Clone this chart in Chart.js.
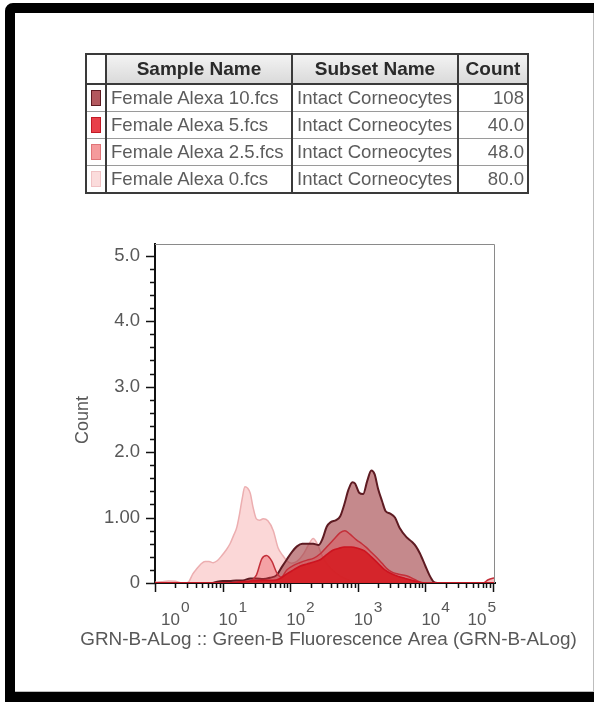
<!DOCTYPE html>
<html>
<head>
<meta charset="utf-8">
<script src="https://cdn.jsdelivr.net/npm/chart.js@4.4.1/dist/chart.umd.min.js"></script>
<style>
  html, body { margin: 0; padding: 0; width: 594px; height: 702px; overflow: hidden; background: #fff; }
  #frame {
    position: absolute; left: 5px; top: 3px; width: 640px; height: 699px;
    box-sizing: border-box; border: 10px solid #000; border-top-left-radius: 8px; background: #fff;
  }
  #inner {
    position: absolute; left: 0; top: 0; width: 579px; height: 679px; box-sizing: border-box;
    border-right: 1px solid #bdbdbd; border-bottom: 1px solid #bdbdbd;
  }
  #plot { position: absolute; left: 0; top: 0; z-index: 1; }
  #legend {
    position: absolute; left: 85px; top: 53px; z-index: 2;
    border-collapse: collapse; table-layout: fixed; width: 442px;
    font-family: "Liberation Sans", Arial, sans-serif; border: 2px solid #3a3a3a;
  }
  #legend th {
    height: 28px; padding: 0; font-size: 19px; font-weight: bold; color: #2a2a2a; text-align: center;
    background: linear-gradient(#f3f3f3, #dadada); border: 2px solid #3a3a3a; white-space: nowrap; overflow: hidden;
  }
  #legend th.sw { background: #fff; }
  #legend td {
    height: 26px; padding: 0 2px 0 4px; font-size: 18.6px; color: #5c5c5c; white-space: nowrap; overflow: hidden;
    border-top: 1px solid #9a9a9a; border-bottom: 1px solid #9a9a9a;
    border-left: 2px solid #3a3a3a; border-right: 2px solid #3a3a3a;
  }
  #legend td.sw { padding: 0; }
  #legend td.num { text-align: right; padding-right: 3px; }
  .swatch { width: 10px; height: 16px; margin: 0 auto; box-sizing: border-box; border: 1.5px solid; }
</style>
</head>
<body>
<div id="frame"><div id="inner"></div></div>
<canvas id="plot" width="594" height="702"></canvas>
<table id="legend">
  <colgroup><col style="width:20px"><col style="width:186px"><col style="width:166px"><col style="width:70px"></colgroup>
  <thead><tr><th class="sw"></th><th>Sample Name</th><th>Subset Name</th><th>Count</th></tr></thead>
  <tbody id="legendBody"></tbody>
</table>
<script>
// Samples listed in the legend table
const sampleNames = ['Female Alexa 10.fcs', 'Female Alexa 5.fcs', 'Female Alexa 2.5.fcs', 'Female Alexa 0.fcs'];
const subsetNames = ['Intact Corneocytes', 'Intact Corneocytes', 'Intact Corneocytes', 'Intact Corneocytes'];
const sampleCounts = [108, 40, 48, 80];

// Histogram outlines: channel position in decades (10^d) and count per sample
const alexa10Log   = [0, 0.85, 0.92, 1.0, 1.1, 1.2, 1.3, 1.41, 1.5, 1.6, 1.7, 1.8, 1.88, 1.95, 2.03, 2.1, 2.18, 2.26, 2.34, 2.42, 2.48, 2.54, 2.6, 2.68, 2.74, 2.8, 2.86, 2.92, 2.96, 3.02, 3.08, 3.14, 3.2, 3.25, 3.3, 3.36, 3.41, 3.48, 3.55, 3.62, 3.72, 3.8, 3.86, 3.92, 4.0, 4.06, 4.12, 4.18, 5.03];
const alexa10Count = [0, 0, 0.02, 0.03, 0.03, 0.04, 0.04, 0.07, 0.07, 0.06, 0.08, 0.12, 0.25, 0.36, 0.48, 0.56, 0.6, 0.6, 0.6, 0.58, 0.68, 0.86, 0.93, 0.96, 1.02, 1.2, 1.42, 1.54, 1.52, 1.38, 1.36, 1.56, 1.72, 1.66, 1.44, 1.25, 1.1, 1.06, 1.0, 0.84, 0.7, 0.63, 0.56, 0.45, 0.26, 0.12, 0.02, 0, 0];

const alexa5Log   = [0, 1.1, 1.2, 1.4, 1.6, 1.75, 1.85, 1.95, 2.05, 2.15, 2.25, 2.35, 2.45, 2.55, 2.63, 2.72, 2.8, 2.9, 3.0, 3.1, 3.2, 3.3, 3.4, 3.5, 3.6, 3.7, 3.8, 3.9, 4.0, 5.03];
const alexa5Count = [0, 0, 0.01, 0.03, 0.04, 0.04, 0.07, 0.14, 0.2, 0.26, 0.29, 0.32, 0.36, 0.44, 0.5, 0.53, 0.55, 0.55, 0.53, 0.49, 0.4, 0.3, 0.2, 0.14, 0.1, 0.07, 0.04, 0.015, 0, 0];

const alexa25Log   = [0, 1.3, 1.4, 1.5, 1.58, 1.65, 1.73, 1.8, 1.87, 1.95, 2.05, 2.14, 2.25, 2.35, 2.45, 2.54, 2.64, 2.74, 2.81, 2.88, 2.98, 3.06, 3.13, 3.2, 3.28, 3.36, 3.43, 3.5, 3.58, 3.72, 3.87, 3.96, 4.85, 4.93, 5.03];
const alexa25Count = [0, 0, 0.02, 0.12, 0.37, 0.42, 0.33, 0.16, 0.09, 0.2, 0.27, 0.31, 0.35, 0.38, 0.45, 0.55, 0.66, 0.77, 0.8, 0.75, 0.66, 0.6, 0.54, 0.47, 0.39, 0.3, 0.22, 0.17, 0.14, 0.11, 0.04, 0, 0, 0.05, 0.08];

const alexa0Log   = [0, 0.1, 0.2, 0.3, 0.38, 0.45, 0.5, 0.56, 0.62, 0.68, 0.74, 0.8, 0.86, 0.92, 0.99, 1.05, 1.11, 1.16, 1.21, 1.25, 1.29, 1.33, 1.37, 1.41, 1.45, 1.5, 1.55, 1.6, 1.67, 1.75, 1.82, 1.89, 1.95, 2.02, 2.1, 2.2, 2.28, 2.34, 2.4, 2.48, 2.6, 2.75, 2.9, 3.05, 5.03];
const alexa0Count = [0.01, 0.02, 0.03, 0.025, 0.005, 0, 0.02, 0.14, 0.22, 0.29, 0.33, 0.33, 0.31, 0.34, 0.42, 0.5, 0.6, 0.72, 0.85, 1.05, 1.29, 1.47, 1.45, 1.37, 1.16, 0.98, 0.96, 0.98, 0.95, 0.8, 0.54, 0.42, 0.34, 0.3, 0.33, 0.45, 0.6, 0.68, 0.6, 0.4, 0.22, 0.1, 0.03, 0, 0];

// Axis ticks
const yTickValues = [0, 1, 2, 3, 4, 5];
const yTickLabels = ['0', '1.00', '2.0', '3.0', '4.0', '5.0'];
const xDecades = [0, 1, 2, 3, 4, 5];
const xTitle = 'GRN-B-ALog :: Green-B Fluorescence Area (GRN-B-ALog)';
const yTitle = 'Count';

// Swatch colours shown in the legend table, and the matching plot styles
const swatchFill   = ['#b3585e', '#e8404a', '#f59a9c', '#fbdcdc'];
const swatchBorder = ['#5e1b22', '#c21a26', '#e07478', '#f0c2c4'];
const lineColor = ['#5e1b22', '#cc1420', '#c4303a', '#ecaeb0'];
const fillColor = ['rgba(162,64,70,0.62)', 'rgba(214,26,32,0.86)', 'rgba(232,62,70,0.34)', 'rgb(251,215,215)'];
const lineWidth = [2, 1.6, 1.5, 1.5];
const drawOrder = [2, 0, 1, 3];

// Legend table rows
const body = document.getElementById('legendBody');
sampleNames.forEach((name, i) => {
  const tr = document.createElement('tr');
  const n = sampleCounts[i];
  const countText = n >= 100 ? String(n) : n.toFixed(1);
  tr.innerHTML = '<td class="sw"><div class="swatch" style="background:' + swatchFill[i] + ';border-color:' + swatchBorder[i] + '"></div></td>' +
    '<td>' + name + '</td><td>' + subsetNames[i] + '</td><td class="num">' + countText + '</td>';
  body.appendChild(tr);
});

const toPoints = (logs, counts) => logs.map((d, i) => ({ x: Math.pow(10, d), y: counts[i] }));
const seriesLogs = [alexa10Log, alexa5Log, alexa25Log, alexa0Log];
const seriesCounts = [alexa10Count, alexa5Count, alexa25Count, alexa0Count];

const datasets = sampleNames.map((name, i) => ({
  label: name,
  data: toPoints(seriesLogs[i], seriesCounts[i]),
  borderColor: lineColor[i],
  backgroundColor: fillColor[i],
  borderWidth: lineWidth[i],
  fill: 'origin',
  pointRadius: 0,
  cubicInterpolationMode: 'monotone',
  order: drawOrder[i]
}));

const FONT = '"Liberation Sans", Arial, sans-serif';
const TEXT = '#585858';

// Frame, tick marks, decade labels and axis titles
const axisDecor = {
  id: 'axisDecor',
  afterDraw(chart) {
    const { ctx, chartArea: a, scales: { x, y } } = chart;
    ctx.save();
    // top and right frame lines
    ctx.strokeStyle = '#8a8a8a';
    ctx.lineWidth = 1;
    ctx.beginPath();
    ctx.moveTo(a.left, a.top + 0.5); ctx.lineTo(a.right - 0.5, a.top + 0.5); ctx.lineTo(a.right - 0.5, a.bottom);
    ctx.stroke();

    ctx.strokeStyle = '#111';
    ctx.lineWidth = 1.5;
    ctx.beginPath();
    // y ticks: majors every 1, minors every 0.2
    for (let k = 0; k <= 25; k++) {
      const v = k / 5;
      const py = Math.round(y.getPixelForValue(v)) + 0.5;
      const len = (k % 5 === 0) ? 9 : 5;
      ctx.moveTo(a.left - len, py); ctx.lineTo(a.left, py);
    }
    // x ticks: majors at decades, minors at 2..9
    xDecades.forEach(d => {
      const px = Math.round(x.getPixelForValue(Math.pow(10, d))) + 0.5;
      ctx.moveTo(px, a.bottom); ctx.lineTo(px, a.bottom + 9);
      if (d < 5) {
        for (let m = 2; m <= 9; m++) {
          const mx = Math.round(x.getPixelForValue(m * Math.pow(10, d))) + 0.5;
          ctx.moveTo(mx, a.bottom); ctx.lineTo(mx, a.bottom + 5);
        }
      }
    });
    ctx.stroke();

    // decade labels 10^d
    ctx.fillStyle = TEXT;
    ctx.textBaseline = 'alphabetic';
    ctx.textAlign = 'left';
    const baseFont = '17px ' + FONT, expFont = '15.5px ' + FONT;
    xDecades.forEach(d => {
      const px = x.getPixelForValue(Math.pow(10, d));
      ctx.font = baseFont; const wb = ctx.measureText('10').width;
      ctx.font = expFont; const we = ctx.measureText(String(d)).width;
      const w = wb + 1 + we;
      let left = px - 4;
      if (left < a.left + 6) left = a.left + 6;
      if (left + w > a.right + 1) left = a.right + 1 - w;
      ctx.font = baseFont; ctx.fillText('10', left, a.bottom + 42);
      ctx.font = expFont; ctx.fillText(String(d), left + wb + 1, a.bottom + 29);
    });

    // axis titles
    ctx.font = '18.9px ' + FONT;
    ctx.textAlign = 'center';
    ctx.fillText(xTitle, 328.5, 645);
    ctx.translate(88, 420);
    ctx.rotate(-Math.PI / 2);
    ctx.font = '18px ' + FONT;
    ctx.fillText(yTitle, 0, 0);
    ctx.restore();
  }
};

new Chart(document.getElementById('plot'), {
  type: 'line',
  data: { datasets },
  options: {
    responsive: false,
    animation: false,
    events: [],
    layout: { padding: { left: 0, top: 244, right: 99, bottom: 79 } },
    plugins: { legend: { display: false }, tooltip: { enabled: false } },
    scales: {
      x: {
        type: 'logarithmic',
        min: 1,
        max: Math.pow(10, 5.03),
        ticks: { display: false },
        grid: { display: false },
        border: { display: true, color: '#111', width: 2 },
        afterFit: s => { s.height = 40; }
      },
      y: {
        type: 'linear',
        min: 0,
        max: 5.18,
        afterBuildTicks: s => { s.ticks = yTickValues.map(v => ({ value: v })); },
        ticks: {
          callback: (v, i) => yTickLabels[i],
          color: TEXT,
          padding: 7,
          font: { family: FONT, size: 18.5 }
        },
        grid: { display: false },
        border: { display: true, color: '#111', width: 2 },
        afterFit: s => { s.width = 155; }
      }
    }
  },
  plugins: [axisDecor]
});
</script>
</body>
</html>
